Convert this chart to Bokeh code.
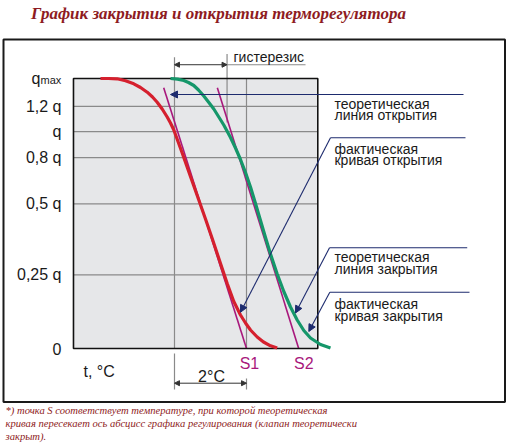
from bokeh.plotting import figure
from bokeh.models import Range1d, Arrow, NormalHead
from bokeh.core.properties import value
from bokeh.embed import file_html
from bokeh.resources import INLINE

# ---------------- data (x: temperature, deg C from first grid line; y: valve lift, fraction of q_max level) ----
red_t = [-2.056, -1.833, -1.592, -1.361, -1.131, -0.944, -0.758, -0.611, -0.481, -0.342, -0.203, -0.111,
         -0.019, 0.214, 0.444, 0.675, 0.861, 1.047, 1.278, 1.464, 1.647, 1.833, 1.972, 2.111, 2.297, 2.472,
         2.667, 2.853]
red_q = [1.0, 1.0, 0.9989, 0.9915, 0.9804, 0.9667, 0.9493, 0.9315, 0.9122, 0.8870, 0.8574, 0.8352,
         0.8093, 0.7241, 0.6370, 0.5500, 0.4796, 0.4074, 0.3148, 0.2407, 0.1741, 0.1241, 0.0944, 0.0685,
         0.0426, 0.0241, 0.0100, 0.0019]

green_t = [-0.111, 0.083, 0.258, 0.389, 0.536, 0.667, 0.814, 0.944, 1.092, 1.222, 1.369, 1.556, 1.694,
           1.833, 1.972, 2.111, 2.250, 2.389, 2.528, 2.667, 2.853, 3.036, 3.222, 3.408, 3.592, 3.778,
           4.056, 4.333]
green_q = [1.0, 0.9978, 0.9926, 0.9852, 0.9741, 0.9574, 0.9352, 0.9130, 0.8870, 0.8593, 0.8278, 0.7815,
           0.7426, 0.7000, 0.6519, 0.5981, 0.5370, 0.4741, 0.4111, 0.3500, 0.2759, 0.2111, 0.1537, 0.1056,
           0.0667, 0.0389, 0.0148, 0.0019]

theory_top_t = [-0.30, 1.19]      # theoretical lines, upper ends
theory_top_q = [0.966, 0.966]
s_points = [2.0, 3.45]            # S1, S2
s_labels = ["S1", "S2"]

level_pos = [0.897, 0.803, 0.707, 0.536, 0.273, 0.0]
level_labels = ["1,2 q", "q", "0,8 q", "0,5 q", "0,25 q", "0"]
grid_t = [0.0, 2.0]
hyst_t = [0.0, 1.46]

plot_t = [-2.806, 3.98]

title = "График закрытия и открытия терморегулятора"
notes = ["теоретическая", "линия открытия",
         "фактическая", "кривая открытия",
         "теоретическая", "линия закрытия",
         "фактическая", "кривая закрытия"]
footnote = ["*) точка S соответствует температуре, при которой теоретическая",
            "кривая пересекает ось абсцисс графика регулирования (клапан теоретически",
            "закрыт)."]

RED = "#d5202e"
GREEN = "#15976a"
MAG = "#a8187c"
NAVY = "#1d2b6e"
DARKRED = "#8e1b22"
GRID = "#8a8a8a"
SANS = value("Liberation Sans")
SERIF = value("Liberation Serif")

p = figure(width=508, height=446, x_range=Range1d(-4.8333, 9.2778), y_range=Range1d(-0.36296, 1.28889),
           output_backend="svg", toolbar_location=None, min_border=0,
           x_axis_type=None, y_axis_type=None)
p.grid.visible = False
p.outline_line_color = None
p.background_fill_color = "white"
p.border_fill_color = "white"

# outer frame
p.quad(left=-4.75, right=9.18, bottom=-0.198, top=1.1444, fill_color=None, line_color="#1a1a1a", line_width=2)

# plot area
p.quad(left=plot_t[0], right=plot_t[1], bottom=0, top=1, fill_color="#e6e7e9", line_color=None)
p.segment(x0=[plot_t[0]] * len(level_pos), x1=[plot_t[1]] * len(level_pos), y0=level_pos, y1=level_pos,
          line_color=GRID, line_width=1.2)
p.segment(x0=grid_t, x1=grid_t, y0=[0, 0], y1=[1, 1], line_color=GRID, line_width=1.2)
# extension lines (hysteresis and 2°C)
p.segment(x0=[hyst_t[0], hyst_t[1], grid_t[0], grid_t[1]], x1=[hyst_t[0], hyst_t[1], grid_t[0], grid_t[1]],
          y0=[1.0, 0.837, -0.0185, -0.111], y1=[1.079, 1.091, -0.152, -0.152],
          line_color=GRID, line_width=1.2)
p.segment(x0=[hyst_t[1]], x1=[3.64], y0=[1.051], y1=[1.051], line_color=GRID, line_width=1.2)

# theoretical lines
p.segment(x0=theory_top_t, y0=theory_top_q, x1=s_points, y1=[0, 0], line_color=MAG, line_width=1.6)

# plot area border
p.quad(left=plot_t[0], right=plot_t[1], bottom=0, top=1, fill_color=None, line_color="#111111", line_width=1.6)

# actual curves
p.line(red_t, red_q, line_color=RED, line_width=3.2, line_join="round")
p.line(green_t, green_q, line_color=GREEN, line_width=3.2, line_join="round")

# dimension arrows
for (xa, xb, yy) in [(hyst_t[0], hyst_t[1], 1.051), (grid_t[0], grid_t[1], -0.1285)]:
    p.add_layout(Arrow(start=NormalHead(size=5, fill_color="#333333", line_color="#333333", line_width=1),
                       end=NormalHead(size=5, fill_color="#333333", line_color="#333333", line_width=1),
                       x_start=xa, y_start=yy, x_end=xb, y_end=yy, line_color="#333333", line_width=1))

# leader lines
p.segment(x0=[4.333, 4.306, 4.314], x1=[8.083, 8.131, 8.194], y0=[0.7804, 0.373, 0.2085], y1=[0.7804, 0.373, 0.2085],
          line_color=NAVY, line_width=1.1)
for (xs, ys, xe, ye) in [(8.028, 0.9407, -0.111, 0.9407), (4.333, 0.7804, 1.833, 0.1344),
                         (4.306, 0.373, 3.361, 0.1315), (4.314, 0.2085, 3.731, 0.063)]:
    p.add_layout(Arrow(end=NormalHead(size=7, fill_color=NAVY, line_color=NAVY, line_width=1),
                       x_start=xs, y_start=ys, x_end=xe, y_end=ye, line_color=NAVY, line_width=1.1))

# texts
p.text(x=[1.222], y=[1.2419], text=[title], text_font=SERIF, text_font_style="bold italic",
       text_font_size="17px", text_color=DARKRED, text_align="center", text_baseline="middle")
p.text(x=[-3.139] * len(level_pos), y=level_pos, text=level_labels, text_font=SANS, text_font_size="16px",
       text_color="#1a1a1a", text_align="right", text_baseline="middle")
p.text(x=[-3.722], y=[1.0], text=["q"], text_font=SANS, text_font_size="16px",
       text_color="#1a1a1a", text_align="right", text_baseline="middle")
p.text(x=[-3.72], y=[0.996], text=["max"], text_font=SANS, text_font_size="11px",
       text_color="#1a1a1a", text_align="left", text_baseline="middle")
p.text(x=[-2.528], y=[-0.0852], text=["t, °C"], text_font=SANS, text_font_size="16px",
       text_color="#1a1a1a", text_align="left", text_baseline="middle")
p.text(x=[1.028], y=[-0.1037], text=["2°C"], text_font=SANS, text_font_size="16px",
       text_color="#1a1a1a", text_align="center", text_baseline="middle")
p.text(x=[2.083, 3.592], y=[-0.0556, -0.0556], text=s_labels, text_font=SANS, text_font_size="16px",
       text_color=MAG, text_align="center", text_baseline="middle")
p.text(x=[1.639], y=[1.0789], text=["гистерезис"], text_font=SANS, text_font_size="14px",
       text_color="#1a1a1a", text_align="left", text_baseline="middle")
p.text(x=[4.444] * 8, y=[0.9063, 0.863, 0.7396, 0.6963, 0.3381, 0.2926, 0.1656, 0.1196], text=notes,
       text_font=SANS, text_font_size="14px", text_color="#1a1a1a", text_align="left", text_baseline="middle")
p.text(x=[-4.694] * 3, y=[-0.2296, -0.2789, -0.3248], text=footnote, text_font=SERIF, text_font_style="italic",
       text_font_size="10.6px", text_color=DARKRED, text_align="left", text_baseline="middle")

open("out.html", "w").write(file_html(p, INLINE))
